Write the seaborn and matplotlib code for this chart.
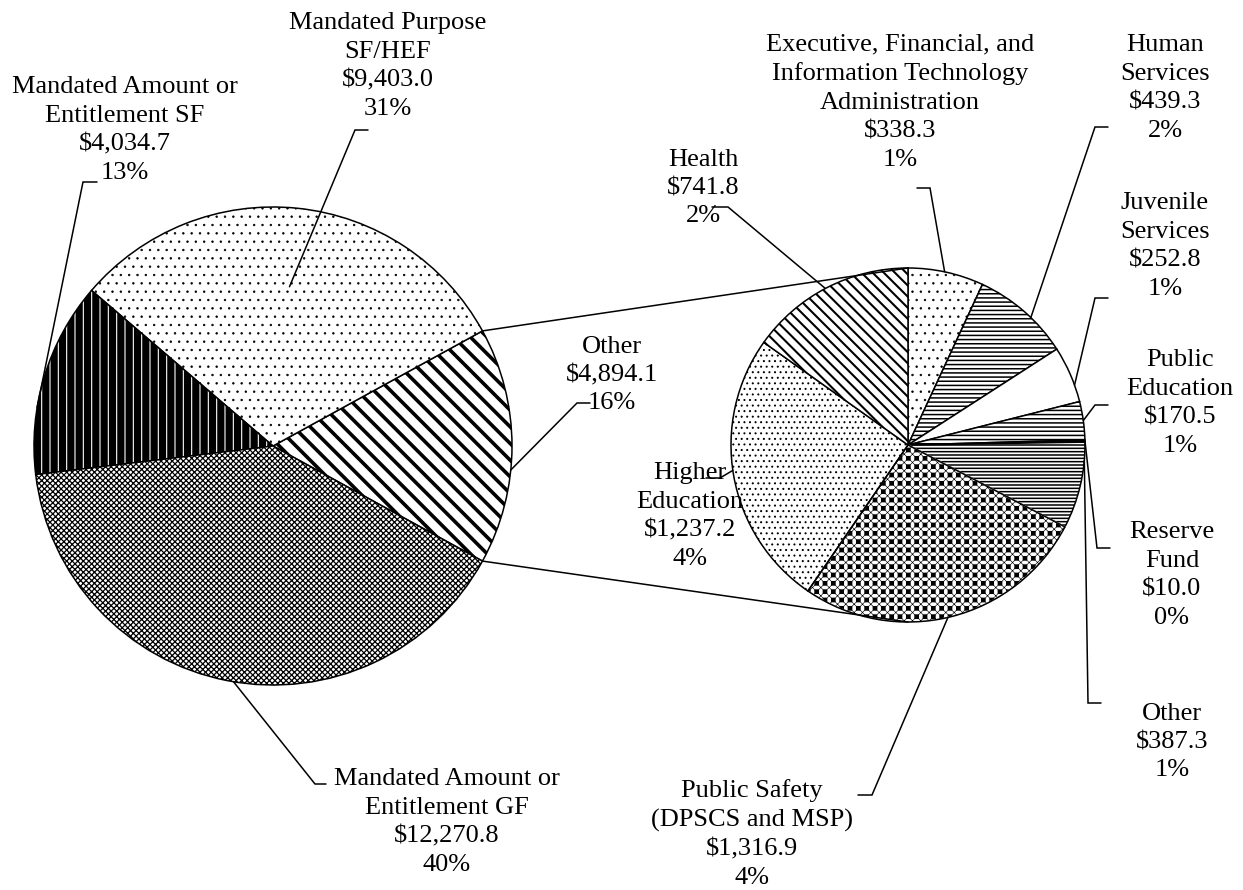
import numpy as np
import matplotlib
matplotlib.use("Agg")
import matplotlib.pyplot as plt
import seaborn as sns
from matplotlib.patches import Wedge

# ---------------- data ----------------
main_categories = ["Other", "Mandated Purpose\nSF/HEF",
                   "Mandated Amount or\nEntitlement SF",
                   "Mandated Amount or\nEntitlement GF"]
main_values = [4894.1, 9403.0, 4034.7, 12270.8]
main_pct_labels = ["16%", "31%", "13%", "40%"]

detail_categories = ["Executive, Financial, and\nInformation Technology\nAdministration",
                     "Human\nServices", "Juvenile\nServices", "Public\nEducation",
                     "Reserve\nFund", "Other", "Public Safety\n(DPSCS and MSP)",
                     "Higher\nEducation", "Health"]
detail_values = [338.3, 439.3, 252.8, 170.5, 10.0, 387.3, 1316.9, 1237.2, 741.8]
detail_pct_labels = ["1%", "2%", "1%", "1%", "0%", "1%", "4%", "4%", "2%"]

# ---------------- styles ----------------
W, H = 1243, 890
FONT = "Liberation Serif"
FS = 19
LSP = 1.38
main_hatches = ["\\\\", "..", "||", "xxxxxx"]
main_hatch_lw = [2.6, 0.5, 5.2, 0.9]
main_faces = ["white", "white", "white", "white"]
detail_hatches = ["..", "----", "", "----", "", "-----", "++", "...", "\\\\\\"]
detail_hatch_lw = [0.5, 1.1, 0.5, 1.1, 0.5, 1.1, 2.6, 0.7, 1.5]
detail_faces = ["white", "white", "white", "white", "black", "white", "black", "white", "white"]

sns.set_theme(style="white")
plt.rcParams["font.family"] = [FONT, "DejaVu Serif"]

fig = plt.figure(figsize=(W / 100, H / 100), dpi=100)
ax = fig.add_axes([0, 0, 1, 1])


def P(x, y):
    return (x, H - y)


def set_hlw(p, lw):
    if hasattr(p, "set_hatch_linewidth"):
        p.set_hatch_linewidth(lw)
    else:
        p._hatch_linewidth = lw


left_c, left_r = P(273, 446), 239
right_c, right_r = P(908, 445), 177

start_main = -0.5 * main_values[0] / sum(main_values) * 360
wl, _ = ax.pie(main_values, center=left_c, radius=left_r, startangle=start_main,
               counterclock=True, colors=main_faces, hatch=main_hatches,
               wedgeprops=dict(edgecolor="black", linewidth=1.1))
wr, _ = ax.pie(detail_values, center=right_c, radius=right_r, startangle=90,
               counterclock=False, colors=detail_faces, hatch=detail_hatches,
               wedgeprops=dict(edgecolor="black", linewidth=1.1))
for w, lw in zip(wl, main_hatch_lw):
    set_hlw(w, lw)
for w, lw in zip(wr, detail_hatch_lw):
    set_hlw(w, lw)

# public safety: white grid on black with fine checker overlay
ps = wr[6]
ps.set_edgecolor("white")
ov = Wedge(ps.center, ps.r, ps.theta1, ps.theta2, facecolor="none",
           edgecolor="black", hatch="xxxx", linewidth=1.1)
set_hlw(ov, 0.45)
ax.add_patch(ov)


def wpoint(w, t, rf):
    a = np.deg2rad(w.theta1 + t * (w.theta2 - w.theta1))
    return (w.center[0] + rf * w.r * np.cos(a), w.center[1] + rf * w.r * np.sin(a))


def apoint(center, r, deg):
    a = np.deg2rad(deg)
    return (center[0] + r * np.cos(a), center[1] + r * np.sin(a))


# connector lines between the two pies
other = wl[0]
p_top = apoint(other.center, other.r, other.theta2)
p_bot = apoint(other.center, other.r, other.theta1)
q_top = apoint(right_c, right_r, 90)
q_bot = apoint(right_c, right_r, 270)
ax.plot([p_top[0], q_top[0]], [p_top[1], q_top[1]], color="black", lw=1.1)
ax.plot([p_bot[0], q_bot[0]], [p_bot[1], q_bot[1]], color="black", lw=1.1)

# labels: (index, text center px, t, rf, corner px, tail px)
main_layout = [
    (0, (612, 375), 0.40, 1.0, (577, 403), (590, 403)),
    (1, (388, 66), 0.50, 0.67, (355, 130), (368, 130)),
    (2, (125, 130), 0.66, 1.0, (83, 182), (97, 182)),
    (3, (447, 822), 0.51, 1.0, (315, 784), (326, 784)),
]
detail_layout = [
    (0, (900, 102), 0.52, 1.0, (930, 188), (917, 188)),
    (1, (1165, 88), 0.41, 1.0, (1095, 127), (1108, 127)),
    (2, (1165, 246), 0.30, 1.0, (1095, 298), (1108, 298)),
    (3, (1180, 403), 0.50, 1.0, (1095, 405), (1108, 405)),
    (4, (1172, 575), 0.50, 1.0, (1097, 548), (1110, 548)),
    (5, (1172, 742), 0.79, 1.0, (1088, 703), (1101, 703)),
    (6, (752, 834), 0.49, 1.0, (872, 795), (858, 795)),
    (7, (690, 516), 0.48, 1.0, (720, 478), (706, 478)),
    (8, (703, 188), 0.51, 1.0, (728, 207), (712, 207)),
]


def draw_labels(wedges, cats, vals, pcts, layout):
    for idx, tc, t, rf, corner, tail in layout:
        txt = f"{cats[idx]}\n${vals[idx]:,.1f}\n{pcts[idx]}"
        ax.text(*P(*tc), txt, ha="center", va="center", multialignment="center",
                fontsize=FS, family=[FONT, "DejaVu Serif"], linespacing=LSP,
                color="black")
        e = wpoint(wedges[idx], t, rf)
        c = P(*corner)
        tl = P(*tail)
        ax.plot([e[0], c[0], tl[0]], [e[1], c[1], tl[1]], color="black", lw=1.1,
                solid_joinstyle="miter")


draw_labels(wl, main_categories, main_values, main_pct_labels, main_layout)
draw_labels(wr, detail_categories, detail_values, detail_pct_labels, detail_layout)

ax.set_xlim(0, W)
ax.set_ylim(0, H)
ax.set_aspect("equal")
ax.axis("off")
fig.savefig("out.png", dpi=100, facecolor="white")
